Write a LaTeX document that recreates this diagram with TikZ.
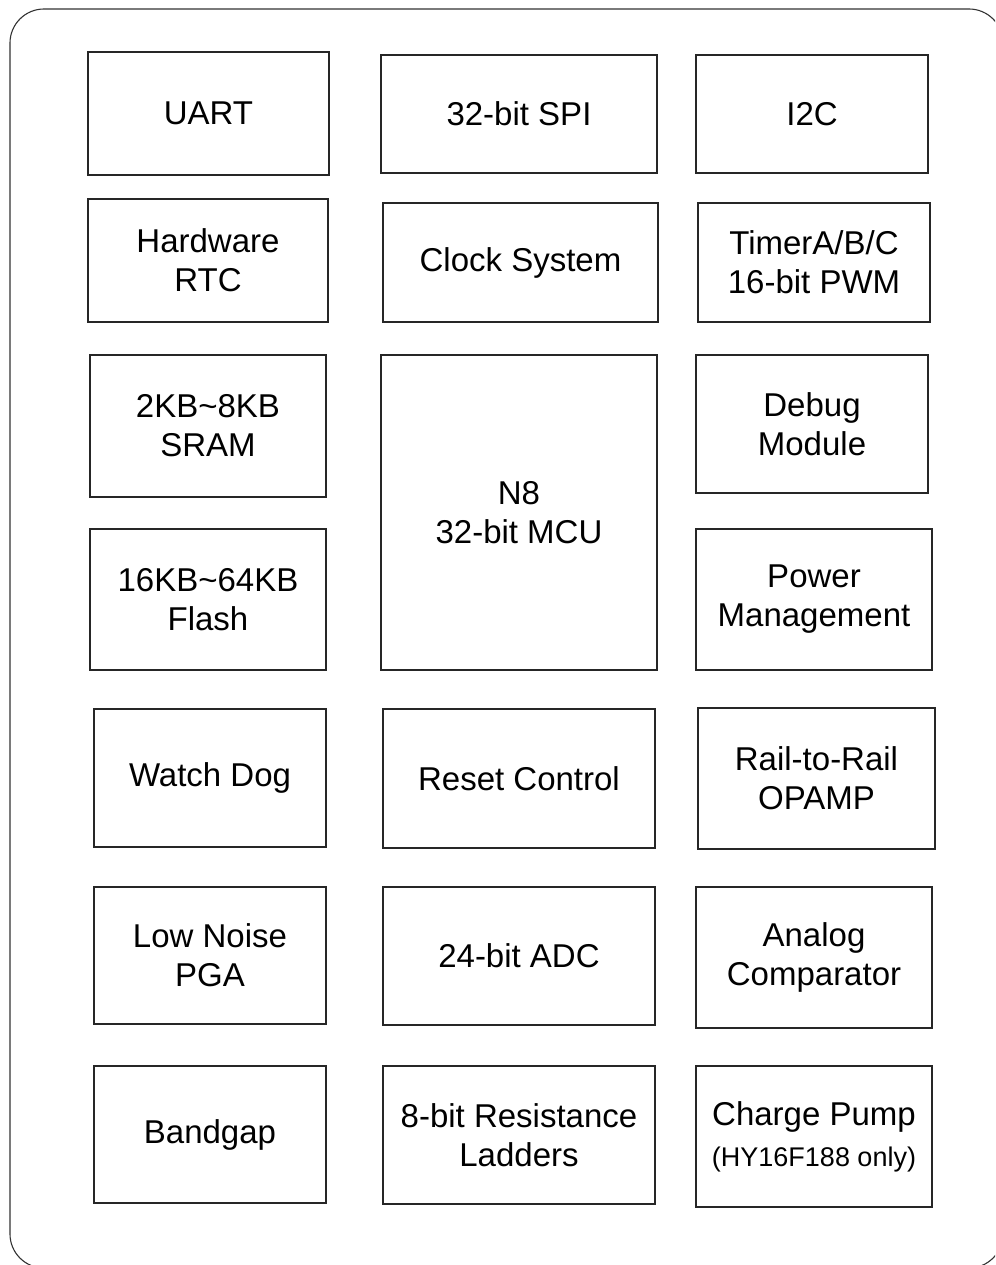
\documentclass[tikz,border=0pt]{standalone}
\usepackage{fontspec}
\setmainfont{Liberation Sans}
\begin{document}
\begin{tikzpicture}[x=1pt,y=-1pt,
  blk/.style n args={2}{draw=black!85, line width=1.1pt, fill=white, inner sep=0pt,
    minimum width=#1pt, minimum height=#2pt, align=center,
    font=\fontsize{33}{39}\selectfont},
  frame/.style={draw=black!80, line width=1.1pt, rounded corners=34pt}]
\useasboundingbox (0,0) rectangle (995,1265);
\clip (0,0) rectangle (995,1265);
\draw[frame] (10,9) rectangle (1003,1268);
% row 1
\node[blk={241}{123}] (uart) at (208.5,113.5) {UART};
\node[blk={276}{118}] (spi) at (519,114) {32-bit SPI};
\node[blk={232}{118}] (i2c) at (812,114) {I2C};
% row 2
\node[blk={240}{123}] (rtc) at (208,260.5) {Hardware\\RTC};
\node[blk={275}{119}] (clk) at (520.5,262.5) {Clock System};
\node[blk={232}{119}] (tmr) at (814,262.5) {TimerA/B/C\\16-bit PWM};
% rows 3-4
\node[blk={236}{142}] (sram) at (208,426) {2KB\textasciitilde 8KB\\SRAM};
\node[blk={236}{141}] (flash) at (208,599.5) {16KB\textasciitilde 64KB\\Flash};
\node[blk={276}{315}] (mcu) at (519,512.5) {N8\\32-bit MCU};
\node[blk={232}{138}] (dbg) at (812,424) {Debug\\Module};
\node[blk={236}{141}] (pwr) at (814,599.5) {Power\\Management};
% row 5
\node[blk={232}{138}] (wdt) at (210,778) {Watch Dog};
\node[blk={272}{139}] (rst) at (519,778.5) {Reset Control};
\node[blk={237}{141}] (opa) at (816.5,778.5) {Rail-to-Rail\\OPAMP};
% row 6
\node[blk={232}{137}] (pga) at (210,955.5) {Low Noise\\PGA};
\node[blk={272}{138}] (adc) at (519,956) {24-bit ADC};
\node[blk={236}{141}] (cmp) at (814,957.5) {Analog\\Comparator};
% row 7
\node[blk={232}{137}] (bg) at (210,1134.5) {Bandgap};
\node[blk={272}{138}] (lad) at (519,1135) {8-bit Resistance\\Ladders};
\node[blk={236}{141}] (cp) at (814,1136.5) {Charge Pump\\[2pt]{\fontsize{27}{30}\selectfont (HY16F188 only)}};
\end{tikzpicture}
\end{document}
